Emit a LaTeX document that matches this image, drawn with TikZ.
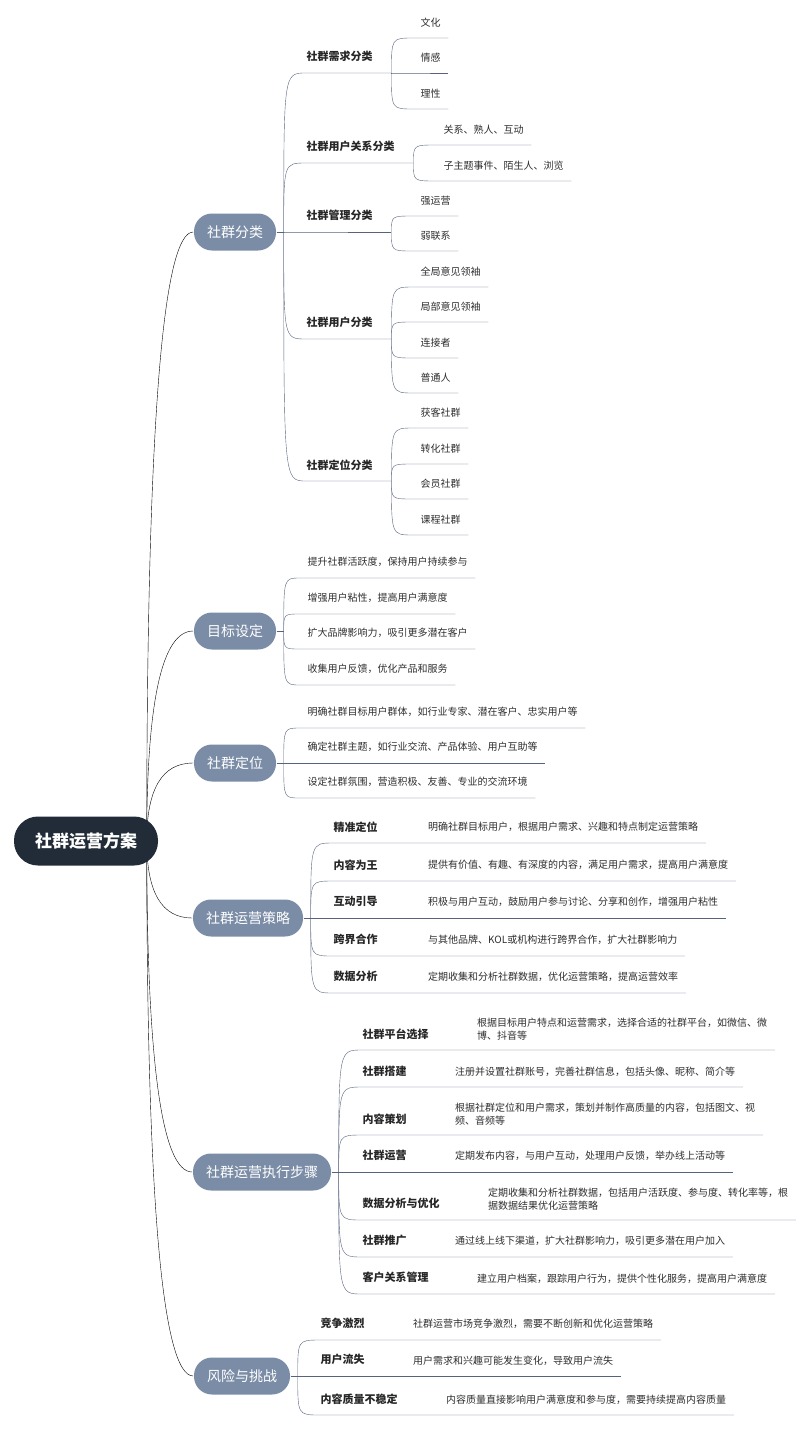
\documentclass[tikz,border=0pt]{standalone}
\usepackage{fontspec}
\setmainfont{Noto Sans CJK SC}
\usetikzlibrary{calc,backgrounds}
\definecolor{rootc}{HTML}{222B38}
\definecolor{mainc}{HTML}{7B8CA6}
\definecolor{linec}{HTML}{56637D}
\definecolor{textc}{HTML}{2E2E2E}
\begin{document}
\begin{tikzpicture}[x=1pt, y=-1pt, color=linec, line width=1.45pt,
    root/.style={fill=rootc, text=white, rounded corners=24pt, minimum height=49pt, inner xsep=21pt, font=\fontsize{17}{20}\selectfont\bfseries},
    main/.style={fill=mainc, text=white, rounded corners=18pt, minimum height=37pt, inner xsep=13pt, font=\fontsize{14}{16}\selectfont},
    cat/.style={anchor=south west, inner sep=0pt, minimum height=31pt, text=black!85, font=\fontsize{11}{13}\selectfont\bfseries},
    leaf/.style={anchor=south west, inner xsep=7pt, inner ysep=9pt, minimum height=30pt, text=textc, align=left, font=\fontsize{10}{13}\selectfont},
    limb/.style={to path={.. controls ($(\tikztostart)!.67!(\tikztostart |- \tikztotarget)$) and ($(\tikztotarget)!.67!(\tikztostart |- \tikztotarget)$) .. (\tikztotarget)}},
    twig/.style={to path={.. controls (\tikztostart |- \tikztotarget) .. (\tikztotarget)}}]
\useasboundingbox (0,0) rectangle (800,1430);

            \node[root] (root) at (86,841) {社群运营方案};
            \coordinate (hub) at ([xshift=-12pt]root.east);

            \node[main] (fl) at (235,232) {社群分类};
            \node[main] (mb) at (235,631) {目标设定};
            \node[main] (dw) at (235,763) {社群定位};
            \node[main] (cl) at (248,918) {社群运营策略};
            \node[main] (zx) at (262,1172) {社群运营执行步骤};
            \node[main] (fx) at (242,1376) {风险与挑战};
            \coordinate (jfl) at ([xshift=7pt]fl.east); \coordinate (jmb) at ([xshift=7pt]mb.east); \coordinate (jdw) at ([xshift=7pt]dw.east);
            \coordinate (jcl) at ([xshift=7pt]cl.east); \coordinate (jzx) at ([xshift=7pt]zx.east); \coordinate (jfx) at ([xshift=7pt]fx.east);

            \node[cat] (xq) at (306,73) {社群需求分类};
            \node[cat] (gx) at (306,163) {社群用户关系分类};
            \node[cat] (gl) at (306,232) {社群管理分类};
            \node[cat] (yh) at (306,339) {社群用户分类};
            \node[cat] (dwf) at (306,481) {社群定位分类};
            \coordinate (jxq) at ([xshift=18pt]xq.south east); \coordinate (jgx) at ([xshift=18pt]gx.south east); \coordinate (jgl) at ([xshift=18pt]gl.south east);
            \coordinate (jyh) at ([xshift=18pt]yh.south east); \coordinate (jdwf) at ([xshift=18pt]dwf.south east);

            \node[leaf] (xq1) at (413,38) {文化};
            \node[leaf] (xq2) at (413,73) {情感};
            \node[leaf] (xq3) at (413,109) {理性};
            \node[leaf] (gx1) at (436,145) {关系、熟人、互动};
            \node[leaf] (gx2) at (436,181) {子主题事件、陌生人、浏览};
            \node[leaf] (gl1) at (413,216) {强运营};
            \node[leaf] (gl2) at (413,251) {弱联系};
            \node[leaf] (yh1) at (413,287) {全局意见领袖};
            \node[leaf] (yh2) at (413,322) {局部意见领袖};
            \node[leaf] (yh3) at (413,358) {连接者};
            \node[leaf] (yh4) at (413,393) {普通人};
            \node[leaf] (dwf1) at (413,428) {获客社群};
            \node[leaf] (dwf2) at (413,464) {转化社群};
            \node[leaf] (dwf3) at (413,499) {会员社群};
            \node[leaf] (dwf4) at (413,535) {课程社群};

            \node[leaf] (mb1) at (300,578) {提升社群活跃度，保持用户持续参与};
            \node[leaf] (mb2) at (300,614) {增强用户粘性，提高用户满意度};
            \node[leaf] (mb3) at (300,649) {扩大品牌影响力，吸引更多潜在客户};
            \node[leaf] (mb4) at (300,685) {收集用户反馈，优化产品和服务};

            \node[leaf] (dw1) at (300,728) {明确社群目标用户群体，如行业专家、潜在客户、忠实用户等};
            \node[leaf] (dw2) at (300,763) {确定社群主题，如行业交流、产品体验、用户互助等};
            \node[leaf] (dw3) at (300,798) {设定社群氛围，营造积极、友善、专业的交流环境};

            \node[cat] (cl1) at (333,843) {精准定位};
            \node[cat] (cl2) at (333,881) {内容为王};
            \node[cat] (cl3) at (333,918) {互动引导};
            \node[cat] (cl4) at (333,956) {跨界合作};
            \node[cat] (cl5) at (333,993) {数据分析};
            \node[leaf] (cl1a) at ([xshift=42pt]cl1.south east) {明确社群目标用户，根据用户需求、兴趣和特点制定运营策略};
            \node[leaf] (cl2a) at ([xshift=42pt]cl2.south east) {提供有价值、有趣、有深度的内容，满足用户需求，提高用户满意度};
            \node[leaf] (cl3a) at ([xshift=42pt]cl3.south east) {积极与用户互动，鼓励用户参与讨论、分享和创作，增强用户粘性};
            \node[leaf] (cl4a) at ([xshift=42pt]cl4.south east) {与其他品牌、KOL或机构进行跨界合作，扩大社群影响力};
            \node[leaf] (cl5a) at ([xshift=42pt]cl5.south east) {定期收集和分析社群数据，优化运营策略，提高运营效率};

            \node[cat] (zx1) at (362,1050) {社群平台选择};
            \node[cat] (zx2) at (362,1087) {社群搭建};
            \node[cat] (zx3) at (362,1135) {内容策划};
            \node[cat] (zx4) at (362,1172) {社群运营};
            \node[cat] (zx5) at (362,1220) {数据分析与优化};
            \node[cat] (zx6) at (362,1257) {社群推广};
            \node[cat] (zx7) at (362,1294) {客户关系管理};
            \node[leaf] (zx1a) at ([xshift=40pt]zx1.south east) {根据目标用户特点和运营需求，选择合适的社群平台，如微信、微\\博、抖音等};
            \node[leaf] (zx2a) at ([xshift=40pt]zx2.south east) {注册并设置社群账号，完善社群信息，包括头像、昵称、简介等};
            \node[leaf] (zx3a) at ([xshift=40pt]zx3.south east) {根据社群定位和用户需求，策划并制作高质量的内容，包括图文、视\\频、音频等};
            \node[leaf] (zx4a) at ([xshift=40pt]zx4.south east) {定期发布内容，与用户互动，处理用户反馈，举办线上活动等};
            \node[leaf] (zx5a) at ([xshift=40pt]zx5.south east) {定期收集和分析社群数据，包括用户活跃度、参与度、转化率等，根\\据数据结果优化运营策略};
            \node[leaf] (zx6a) at ([xshift=40pt]zx6.south east) {通过线上线下渠道，扩大社群影响力，吸引更多潜在用户加入};
            \node[leaf] (zx7a) at ([xshift=40pt]zx7.south east) {建立用户档案，跟踪用户行为，提供个性化服务，提高用户满意度};

            \node[cat] (fx1) at (320,1340) {竞争激烈};
            \node[cat] (fx2) at (320,1376) {用户流失};
            \node[cat] (fx3) at (320,1415) {内容质量不稳定};
            \node[leaf] (fx1a) at ([xshift=40pt]fx1.south east) {社群运营市场竞争激烈，需要不断创新和优化运营策略};
            \node[leaf] (fx2a) at ([xshift=40pt]fx2.south east) {用户需求和兴趣可能发生变化，导致用户流失};
            \node[leaf] (fx3a) at ([xshift=40pt]fx3.south east) {内容质量直接影响用户满意度和参与度，需要持续提高内容质量};

            \begin{pgfonlayer}{background}
            \draw[limb] (hub) to (fl.west); \draw[limb] (hub) to (mb.west); \draw[limb] (hub) to (dw.west);
            \draw[limb] (hub) to (cl.west); \draw[limb] (hub) to (zx.west); \draw[limb] (hub) to (fx.west);
            \end{pgfonlayer}
            \draw (fl) -- (jfl); \draw (mb) -- (jmb); \draw (dw) -- (jdw); \draw (cl) -- (jcl); \draw (zx) -- (jzx); \draw (fx) -- (jfx);

            \draw[twig] (jfl) to (xq.south west) -- (jxq); \draw[twig] (jfl) to (gx.south west) -- (jgx); \draw[twig] (jfl) to (gl.south west) -- (jgl);
            \draw[twig] (jfl) to (yh.south west) -- (jyh); \draw[twig] (jfl) to (dwf.south west) -- (jdwf);
            \draw[twig] (jxq) to (xq1.south west) -- (xq1.south east); \draw[twig] (jxq) to (xq2.south west) -- (xq2.south east); \draw[twig] (jxq) to (xq3.south west) -- (xq3.south east);
            \draw[twig] (jgx) to (gx1.south west) -- (gx1.south east); \draw[twig] (jgx) to (gx2.south west) -- (gx2.south east);
            \draw[twig] (jgl) to (gl1.south west) -- (gl1.south east); \draw[twig] (jgl) to (gl2.south west) -- (gl2.south east);
            \draw[twig] (jyh) to (yh1.south west) -- (yh1.south east); \draw[twig] (jyh) to (yh2.south west) -- (yh2.south east);
            \draw[twig] (jyh) to (yh3.south west) -- (yh3.south east); \draw[twig] (jyh) to (yh4.south west) -- (yh4.south east);
            \draw[twig] (jdwf) to (dwf1.south west) -- (dwf1.south east); \draw[twig] (jdwf) to (dwf2.south west) -- (dwf2.south east);
            \draw[twig] (jdwf) to (dwf3.south west) -- (dwf3.south east); \draw[twig] (jdwf) to (dwf4.south west) -- (dwf4.south east);

            \draw[twig] (jmb) to (mb1.south west) -- (mb1.south east); \draw[twig] (jmb) to (mb2.south west) -- (mb2.south east);
            \draw[twig] (jmb) to (mb3.south west) -- (mb3.south east); \draw[twig] (jmb) to (mb4.south west) -- (mb4.south east);
            \draw[twig] (jdw) to (dw1.south west) -- (dw1.south east); \draw[twig] (jdw) to (dw2.south west) -- (dw2.south east); \draw[twig] (jdw) to (dw3.south west) -- (dw3.south east);

            \draw[twig] (jcl) to (cl1.south west) -- (cl1a.south east); \draw[twig] (jcl) to (cl2.south west) -- (cl2a.south east); \draw[twig] (jcl) to (cl3.south west) -- (cl3a.south east);
            \draw[twig] (jcl) to (cl4.south west) -- (cl4a.south east); \draw[twig] (jcl) to (cl5.south west) -- (cl5a.south east);

            \draw[twig] (jzx) to (zx1.south west) -- (zx1a.south east); \draw[twig] (jzx) to (zx2.south west) -- (zx2a.south east); \draw[twig] (jzx) to (zx3.south west) -- (zx3a.south east);
            \draw[twig] (jzx) to (zx4.south west) -- (zx4a.south east); \draw[twig] (jzx) to (zx5.south west) -- (zx5a.south east);
            \draw[twig] (jzx) to (zx6.south west) -- (zx6a.south east); \draw[twig] (jzx) to (zx7.south west) -- (zx7a.south east);

            \draw[twig] (jfx) to (fx1.south west) -- (fx1a.south east); \draw[twig] (jfx) to (fx2.south west) -- (fx2a.south east); \draw[twig] (jfx) to (fx3.south west) -- (fx3a.south east);
        \end{tikzpicture}
\end{document}
